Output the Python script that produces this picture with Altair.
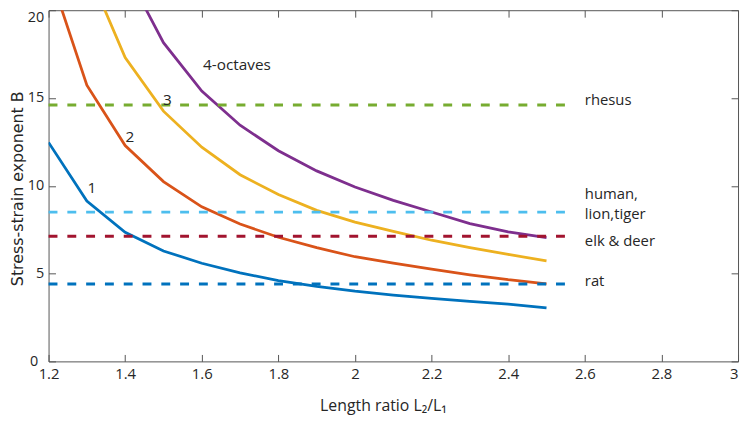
import altair as alt
import pandas as pd

# ---- data ----
x_vals = [1.2, 1.3, 1.4, 1.5, 1.6, 1.7, 1.8, 1.9, 2.0, 2.1, 2.2, 2.3, 2.4, 2.5]
b_oct1 = [12.47, 9.13, 7.35, 6.29, 5.59, 5.04, 4.60, 4.27, 4.00, 3.78, 3.59, 3.42, 3.26, 3.05]
b_oct2 = [22.3, 15.73, 12.29, 10.24, 8.80, 7.82, 7.07, 6.48, 5.96, 5.59, 5.25, 4.93, 4.65, 4.42]
b_oct3 = [None, 22.4, 17.3, 14.25, 12.2, 10.63, 9.50, 8.60, 7.93, 7.40, 6.90, 6.48, 6.09, 5.73]
b_oct4 = [None, None, 22.3, 18.15, 15.4, 13.45, 12.0, 10.85, 9.93, 9.17, 8.51, 7.85, 7.38, 7.05]

curve_names = ["1", "2", "3", "4-octaves"]
curve_colors = ["#0072BD", "#D95319", "#EDB120", "#7E2F8E"]

ref_names = ["rhesus", "human, lion,tiger", "elk & deer", "rat"]
ref_values = [14.6, 8.5, 7.13, 4.41]
ref_colors = ["#77AC30", "#4DBEEE", "#A2142F", "#0072BD"]
ref_x_start = 1.2
ref_x_end = 2.55

curve_label_text = ["1", "2", "3", "4-octaves"]
curve_label_x = [1.313, 1.412, 1.51, 1.692]
curve_label_y = [9.87, 12.75, 14.86, 16.85]

side_label_text = ["rhesus", "human,\nlion,tiger", "elk & deer", "rat"]
side_label_x = 2.6
side_label_y = [14.87, 9.52, 6.85, 4.56]

x_ticks = [1.2, 1.4, 1.6, 1.8, 2.0, 2.2, 2.4, 2.6, 2.8, 3.0]
y_ticks = [0, 5, 10, 15, 20]

# ---- tables ----
rows = []
for name, series in zip(curve_names, [b_oct1, b_oct2, b_oct3, b_oct4]):
    for xv, bv in zip(x_vals, series):
        if bv is not None:
            rows.append({"x": xv, "b": bv, "series": name})
curve_df = pd.DataFrame(rows)

ref_df = pd.DataFrame({
    "name": ref_names,
    "y": ref_values,
    "x0": [ref_x_start] * len(ref_names),
    "x1": [ref_x_end] * len(ref_names),
})
curve_label_df = pd.DataFrame({"label": curve_label_text, "x": curve_label_x, "y": curve_label_y})
side_label_df = pd.DataFrame({"label": side_label_text, "x": [side_label_x] * len(side_label_text), "y": side_label_y})

W, H = 697, 355
FONT = "Open Sans"
TXT = "#262626"
AX = "#555555"

xs = alt.Scale(domain=[1.2, 3.0], nice=False, zero=False)
ys = alt.Scale(domain=[0, 20], nice=False, zero=False)

ax_x_labels = alt.Axis(orient="bottom", values=x_ticks, format="~g", ticks=False, tickSize=0,
                       domain=False, grid=False, labelFont=FONT, labelFontSize=15, labelColor=TXT,
                       labelPadding=5, labelFlush=False, labelOverlap=False,
                       labelAlign=alt.condition("datum.value >= 2.99", alt.value("right"), alt.value("center")),
                       titleFont=FONT, titleFontSize=16, titleFontWeight="normal", titleColor=TXT,
                       titleX=338, titleY=50, titleBaseline="alphabetic", titleAlign="center")
ax_y_labels = alt.Axis(orient="left", values=y_ticks, ticks=False, tickSize=0, domain=False, grid=False,
                       labelFont=FONT, labelFontSize=14.5, labelColor=TXT,
                       labelPadding=alt.condition("datum.value < 0.1", alt.value(11), alt.value(5)),
                       labelFlush=False, labelOverlap=False,
                       labelBaseline=alt.condition("datum.value >= 19.9", alt.value("top"), alt.value("middle")),
                       titleFont="DejaVu Sans", titleFontSize=16, titleFontWeight="normal", titleColor=TXT,
                       titleX=-26, titleY=180, titleBaseline="alphabetic", titleAlign="center")

def tick_axis(orient, off, vals):
    return alt.Axis(orient=orient, offset=off, values=vals, labels=False, domain=False, grid=False,
                    ticks=True, tickSize=7, tickColor=AX, tickWidth=1)

curves = alt.Chart(curve_df).mark_line(clip=True, strokeWidth=2.8).encode(
    x=alt.X("x:Q", scale=xs, axis=ax_x_labels, title="Length ratio L₂/L₁"),
    y=alt.Y("b:Q", scale=ys, axis=ax_y_labels, title="Stress-strain exponent B"),
    color=alt.Color("series:N", scale=alt.Scale(domain=curve_names, range=curve_colors), legend=None),
)

refs = alt.Chart(ref_df).mark_rule(strokeWidth=3, strokeDash=[9, 10]).encode(
    x=alt.X("x0:Q", scale=xs, axis=tick_axis("top", -H, x_ticks), title=None),
    x2="x1:Q",
    y=alt.Y("y:Q", scale=ys, axis=tick_axis("right", -W, y_ticks), title=None),
    color=alt.Color("name:N", scale=alt.Scale(domain=ref_names, range=ref_colors), legend=None),
)

curve_labels = alt.Chart(curve_label_df).mark_text(font=FONT, fontSize=15.5, color=TXT,
                                                   align="center", baseline="middle").encode(
    x=alt.X("x:Q", scale=xs, axis=tick_axis("bottom", -H, x_ticks), title=None),
    y=alt.Y("y:Q", scale=ys, axis=tick_axis("left", -W, y_ticks), title=None),
    text="label:N",
)

side_labels = alt.Chart(side_label_df).mark_text(font=FONT, fontSize=15, color=TXT,
                                                 align="left", baseline="middle",
                                                 lineBreak="\n", lineHeight=20.5).encode(
    x=alt.X("x:Q", scale=xs, axis=None),
    y=alt.Y("y:Q", scale=ys, axis=None),
    text="label:N",
)

chart = alt.layer(curves, refs, curve_labels, side_labels).resolve_scale(
    color="independent"
).resolve_axis(
    x="independent", y="independent"
).properties(
    width=W, height=H,
    padding={"left": 41, "top": 0, "right": 3, "bottom": 56},
    autosize=alt.AutoSizeParams(type="none"),
).configure_view(stroke=AX, strokeWidth=1)

chart.save("out.html", embed_options={"renderer": "svg", "actions": False})
